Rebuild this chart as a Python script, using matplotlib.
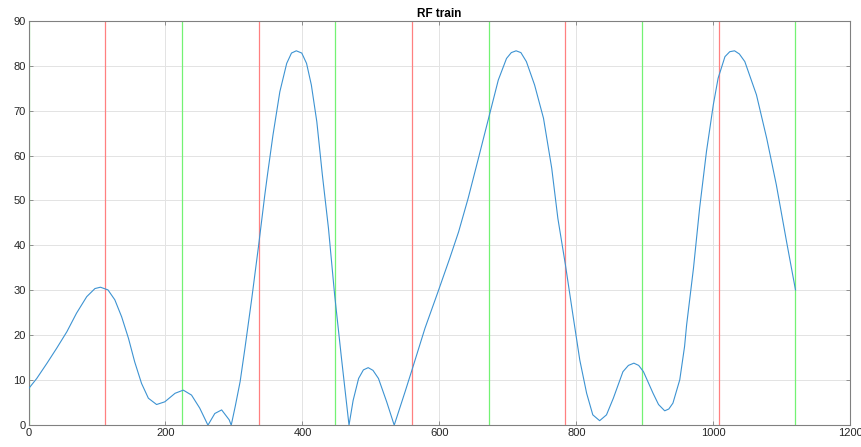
import matplotlib
matplotlib.use("Agg")
import matplotlib.pyplot as plt

# RF train curve
x_vals = [0, 12, 27, 41, 56, 70, 85, 97, 105, 116, 126, 136, 146, 155, 165,
          175, 187, 199, 214, 226, 238, 250, 262, 272, 282, 293, 296, 302, 309,
          316, 326, 336, 345, 349, 357, 367, 377, 384, 391, 399, 406, 413, 421,
          429, 438, 447, 457, 468, 474, 482, 489, 496, 503, 511, 523, 534, 550,
          561, 579, 598, 615, 628, 642, 657, 673, 686, 698, 705, 712, 719, 727,
          739, 752, 764, 773, 784, 795, 805, 815, 824, 834, 844, 854, 868, 876,
          884, 891, 898, 912, 920, 929, 935, 941, 951, 958, 961, 971, 980, 990,
          1000, 1007, 1017, 1024, 1031, 1038, 1046, 1063, 1078, 1092, 1107, 1120]
rf_vals = [8.1, 10.4, 13.8, 17.1, 20.8, 24.9, 28.6, 30.4, 30.7, 30.1, 27.9, 24.1,
           19.3, 14.1, 9.3, 6.0, 4.6, 5.2, 7.1, 7.8, 6.7, 3.8, 0.0, 2.6, 3.4, 1.2,
           0.0, 4.3, 9.7, 17.1, 28.2, 40.0, 51.2, 55.8, 64.6, 74.2, 80.5, 82.8,
           83.3, 82.8, 80.5, 75.7, 67.5, 55.8, 43.8, 29.0, 14.9, 0.0, 5.5, 10.4,
           12.3, 12.8, 12.2, 10.4, 5.2, 0.0, 7.5, 12.8, 21.6, 29.7, 37.1, 43.0,
           50.5, 59.4, 69.0, 76.8, 81.6, 82.9, 83.3, 82.9, 80.9, 75.7, 68.3, 57.2,
           46.0, 35.7, 24.5, 14.5, 7.1, 2.3, 1.0, 2.3, 6.0, 11.9, 13.3, 13.8, 13.3,
           11.9, 7.1, 4.6, 3.2, 3.6, 4.9, 10.1, 17.5, 22.3, 34.9, 48.3, 60.9, 71.3,
           77.2, 82.0, 83.1, 83.3, 82.6, 80.9, 73.5, 63.8, 53.5, 40.8, 30.1]

# marker lines
green_x = [0, 224, 448, 672, 896, 1120]
red_x = [112, 336, 560, 784, 1008]

x_ticks = [0, 200, 400, 600, 800, 1000, 1200]
y_ticks = [0, 10, 20, 30, 40, 50, 60, 70, 80, 90]

plt.rcParams["font.family"] = ["Liberation Sans", "DejaVu Sans"]

fig = plt.figure(figsize=(8.62, 4.47), dpi=100)
ax = fig.add_axes([0.0331, 0.0488, 0.9533, 0.9049])

for xv in green_x:
    ax.axvline(xv, color=(0.45, 0.95, 0.45), linewidth=0.9, zorder=2)
for xv in red_x:
    ax.axvline(xv, color=(1.0, 0.5, 0.5), linewidth=0.9, zorder=2)

ax.plot(x_vals, rf_vals, color="#3d93d2", linewidth=0.8, zorder=3)

ax.set_xlim(0, 1200)
ax.set_ylim(0, 90)
ax.set_xticks(x_ticks)
ax.set_yticks(y_ticks)
ax.grid(True, color=(0.89, 0.89, 0.89), linewidth=0.7, zorder=0)
ax.set_axisbelow(True)

ax.tick_params(direction="in", top=True, right=True, length=3, width=0.6,
               labelsize=8, colors=(0.5, 0.5, 0.5), labelcolor=(0.15, 0.15, 0.15),
               pad=2)
for s in ax.spines.values():
    s.set_color((0.5, 0.5, 0.5))
    s.set_linewidth(0.8)

ax.set_title("RF train", fontsize=8.5, fontweight="bold", pad=3)

fig.savefig("out.png", dpi=100)
